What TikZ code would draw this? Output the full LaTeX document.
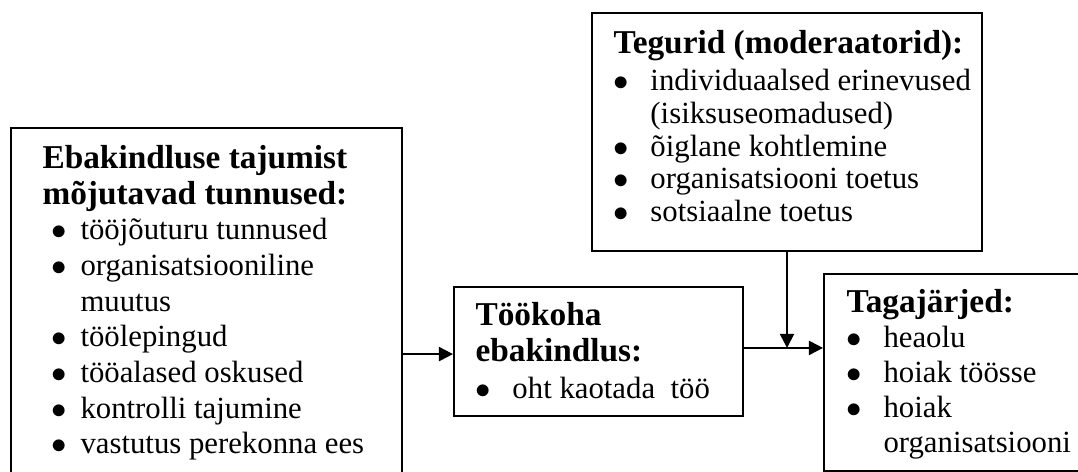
\documentclass[tikz,border=0pt]{standalone}
\usepackage{fontspec}
\setmainfont{Liberation Serif}
\usepackage{array}
\usetikzlibrary{positioning, arrows.meta, calc}

\newcommand{\pealkiri}{\fontsize{13}{14}\selectfont\bfseries}
\newcommand{\tapp}{$\bullet$}

\begin{document}
\begin{tikzpicture}[
    x=0.39pt, y=-0.39pt,
    frame/.style={rectangle, draw=black, line width=0.8pt, inner sep=0pt, anchor=north west},
    content/.style={inner sep=0pt, align=left, font=\fontsize{12}{13.9}\selectfont},
    arrow/.style={-{Triangle[length=5.5pt,width=5.5pt]}, line width=0.8pt}
]
\useasboundingbox (0,0) rectangle (1078,472);
\clip (0,0) rectangle (1078,472);

% Boxes
\node[frame, minimum width=152.5pt, minimum height=137pt] (taju) at (10,127) {};
\node[frame, minimum width=112.7pt, minimum height=50.3pt] (tookoht) at (453,286) {};
\node[frame, minimum width=152.1pt, minimum height=92.8pt] (tegurid) at (591,12) {};
\node[frame, minimum width=104.1pt, minimum height=76.8pt] (tagajarjed) at (823,273) {};

% Texts
\node[content, below right=6.3pt and 12.5pt of taju.north west] (tajutekst) {%
\begin{tabular}[t]{@{}p{14.8pt}@{}l@{}}
\multicolumn{2}{@{}l@{}}{\pealkiri Ebakindluse tajumist}\\
\multicolumn{2}{@{}l@{}}{\pealkiri mõjutavad tunnused:}\\
\hspace{3.6pt}\tapp & tööjõuturu tunnused\\
\hspace{3.6pt}\tapp & organisatsiooniline\\
 & muutus\\
\hspace{3.6pt}\tapp & töölepingud\\
\hspace{3.6pt}\tapp & tööalased oskused\\
\hspace{3.6pt}\tapp & kontrolli tajumine\\
\hspace{3.6pt}\tapp & vastutus perekonna ees
\end{tabular}};

\node[content, font=\fontsize{12}{14.2}\selectfont, below right=5.3pt and 8.6pt of tookoht.north west] (tookohttekst) {%
\begin{tabular}[t]{@{}p{14.4pt}@{}l@{}}
\multicolumn{2}{@{}l@{}}{\pealkiri Töökoha}\\
\multicolumn{2}{@{}l@{}}{\pealkiri ebakindlus:}\\
\tapp & oht kaotada\ \ töö
\end{tabular}};

\node[content, font=\fontsize{12}{12.8}\selectfont, below right=7pt and 8.6pt of tegurid.north west] (tegurtekst) {%
\begin{tabular}[t]{@{}p{14.4pt}@{}l@{}}
\multicolumn{2}{@{}l@{}}{\pealkiri Tegurid (moderaatorid):}\\[1.6pt]
\tapp & individuaalsed erinevused\\
 & (isiksuseomadused)\\
\tapp & õiglane kohtlemine\\
\tapp & organisatsiooni toetus\\
\tapp & sotsiaalne toetus
\end{tabular}};

\node[content, font=\fontsize{12}{13.65}\selectfont, below right=5.5pt and 9pt of tagajarjed.north west] (tagajarjedtekst) {%
\begin{tabular}[t]{@{}p{14.4pt}@{}l@{}}
\multicolumn{2}{@{}l@{}}{\pealkiri Tagajärjed:}\\
\tapp & heaolu\\
\tapp & hoiak töösse\\
\tapp & hoiak\\
 & organisatsiooni
\end{tabular}};

% Arrows
\coordinate (sisse) at ([yshift=-1pt]tookoht.west);
\coordinate (valja) at ([yshift=1.4pt]tookoht.east);
\draw[arrow] (taju.east |- sisse) -- (sisse);
\draw[arrow] (valja) -- (valja -| tagajarjed.west);
\draw[arrow] (tegurid.south) -- (tegurid.south |- valja);

\end{tikzpicture}
\end{document}
